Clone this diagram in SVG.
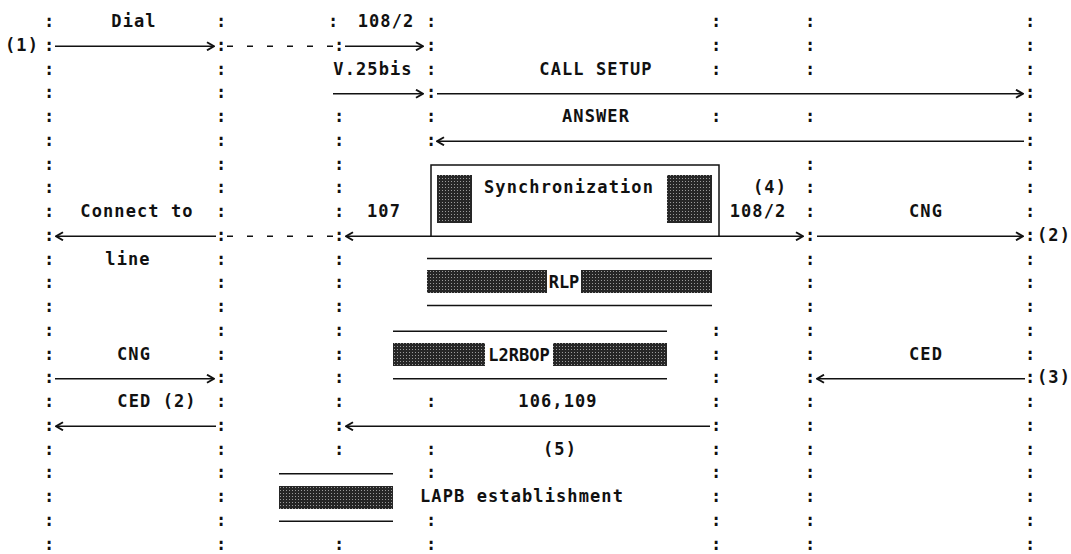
<svg xmlns="http://www.w3.org/2000/svg" width="1071" height="554" viewBox="0 0 1071 554">
<style>
text { font-family: "DejaVu Sans Mono", "Liberation Mono", monospace; font-size: 17px; font-weight: bold; fill: #111; }
.m { text-anchor: middle; }
.lb { letter-spacing: 1.1px; }
.ln { stroke: #111; stroke-width: 1.4; fill: none; }
.dash { stroke-dasharray: 6 14; }
.blk { fill: url(#ht); }
.box { fill: none; stroke: #111; stroke-width: 1.5; }
.ar { marker-end: url(#ah); }
.al { marker-start: url(#ah); }
</style>
<defs>
<pattern id="ht" width="3" height="3" patternUnits="userSpaceOnUse">
<rect width="3" height="3" fill="#262626"/>
<rect x="1" y="1" width="1" height="1" fill="#9a9a9a"/>
</pattern>
<marker id="ah" viewBox="-1 -5 9 10" markerWidth="9" markerHeight="10" refX="7" refY="0" orient="auto-start-reverse" markerUnits="userSpaceOnUse">
<path d="M0,-4 L7,0 L0,4" fill="none" stroke="#111" stroke-width="2"/>
</marker>
</defs>
<rect width="1071" height="554" fill="#fff"/>

<g id="col-A">
<text class="m"><tspan x="49" y="27.1">:</tspan><tspan x="49" y="50.85">:</tspan><tspan x="49" y="74.6">:</tspan><tspan x="49" y="98.35">:</tspan><tspan x="49" y="122.1">:</tspan><tspan x="49" y="145.85">:</tspan><tspan x="49" y="169.6">:</tspan><tspan x="49" y="193.35">:</tspan><tspan x="49" y="217.1">:</tspan><tspan x="49" y="240.85">:</tspan><tspan x="49" y="264.6">:</tspan><tspan x="49" y="288.35">:</tspan><tspan x="49" y="312.1">:</tspan><tspan x="49" y="335.85">:</tspan><tspan x="49" y="359.6">:</tspan><tspan x="49" y="383.35">:</tspan><tspan x="49" y="407.1">:</tspan><tspan x="49" y="430.85">:</tspan><tspan x="49" y="454.6">:</tspan><tspan x="49" y="478.35">:</tspan><tspan x="49" y="502.1">:</tspan><tspan x="49" y="525.85">:</tspan><tspan x="49" y="549.6">:</tspan></text>
</g>
<g id="col-B">
<text class="m"><tspan x="221" y="27.1">:</tspan><tspan x="221" y="50.85">:</tspan><tspan x="221" y="74.6">:</tspan><tspan x="221" y="98.35">:</tspan><tspan x="221" y="122.1">:</tspan><tspan x="221" y="145.85">:</tspan><tspan x="221" y="169.6">:</tspan><tspan x="221" y="193.35">:</tspan><tspan x="221" y="217.1">:</tspan><tspan x="221" y="240.85">:</tspan><tspan x="221" y="264.6">:</tspan><tspan x="221" y="288.35">:</tspan><tspan x="221" y="312.1">:</tspan><tspan x="221" y="335.85">:</tspan><tspan x="221" y="359.6">:</tspan><tspan x="221" y="383.35">:</tspan><tspan x="221" y="407.1">:</tspan><tspan x="221" y="430.85">:</tspan><tspan x="221" y="454.6">:</tspan><tspan x="221" y="478.35">:</tspan><tspan x="221" y="502.1">:</tspan><tspan x="221" y="525.85">:</tspan><tspan x="221" y="549.6">:</tspan></text>
</g>
<g id="col-C">
<text class="m"><tspan x="333" y="27.1">:</tspan><tspan x="339" y="50.85">:</tspan><tspan x="339" y="122.1">:</tspan><tspan x="339" y="145.85">:</tspan><tspan x="339" y="169.6">:</tspan><tspan x="339" y="193.35">:</tspan><tspan x="339" y="217.1">:</tspan><tspan x="339" y="240.85">:</tspan><tspan x="339" y="264.6">:</tspan><tspan x="339" y="288.35">:</tspan><tspan x="339" y="312.1">:</tspan><tspan x="339" y="335.85">:</tspan><tspan x="339" y="359.6">:</tspan><tspan x="339" y="383.35">:</tspan><tspan x="339" y="407.1">:</tspan><tspan x="339" y="430.85">:</tspan><tspan x="339" y="454.6">:</tspan><tspan x="339" y="549.6">:</tspan></text>
</g>
<g id="col-D">
<text class="m"><tspan x="431" y="27.1">:</tspan><tspan x="431" y="50.85">:</tspan><tspan x="431" y="74.6">:</tspan><tspan x="431" y="98.35">:</tspan><tspan x="431" y="122.1">:</tspan><tspan x="431" y="145.85">:</tspan><tspan x="431" y="407.1">:</tspan><tspan x="431" y="454.6">:</tspan><tspan x="431" y="478.35">:</tspan><tspan x="431" y="525.85">:</tspan><tspan x="431" y="549.6">:</tspan></text>
</g>
<g id="col-E">
<text class="m"><tspan x="716" y="27.1">:</tspan><tspan x="716" y="50.85">:</tspan><tspan x="716" y="74.6">:</tspan><tspan x="716" y="122.1">:</tspan><tspan x="716" y="335.85">:</tspan><tspan x="716" y="359.6">:</tspan><tspan x="716" y="383.35">:</tspan><tspan x="716" y="407.1">:</tspan><tspan x="716" y="430.85">:</tspan><tspan x="716" y="454.6">:</tspan><tspan x="716" y="478.35">:</tspan><tspan x="716" y="502.1">:</tspan><tspan x="716" y="525.85">:</tspan><tspan x="716" y="549.6">:</tspan></text>
</g>
<g id="col-F">
<text class="m"><tspan x="810" y="27.1">:</tspan><tspan x="810" y="50.85">:</tspan><tspan x="810" y="74.6">:</tspan><tspan x="810" y="122.1">:</tspan><tspan x="810" y="169.6">:</tspan><tspan x="810" y="193.35">:</tspan><tspan x="810" y="217.1">:</tspan><tspan x="810" y="240.85">:</tspan><tspan x="810" y="264.6">:</tspan><tspan x="810" y="288.35">:</tspan><tspan x="810" y="312.1">:</tspan><tspan x="810" y="335.85">:</tspan><tspan x="810" y="359.6">:</tspan><tspan x="810" y="383.35">:</tspan><tspan x="810" y="407.1">:</tspan><tspan x="810" y="430.85">:</tspan><tspan x="810" y="454.6">:</tspan><tspan x="810" y="478.35">:</tspan><tspan x="810" y="502.1">:</tspan><tspan x="810" y="525.85">:</tspan><tspan x="810" y="549.6">:</tspan></text>
</g>
<g id="col-G">
<text class="m"><tspan x="1030" y="27.1">:</tspan><tspan x="1030" y="50.85">:</tspan><tspan x="1030" y="74.6">:</tspan><tspan x="1030" y="98.35">:</tspan><tspan x="1030" y="122.1">:</tspan><tspan x="1030" y="145.85">:</tspan><tspan x="1030" y="169.6">:</tspan><tspan x="1030" y="193.35">:</tspan><tspan x="1030" y="217.1">:</tspan><tspan x="1030" y="240.85">:</tspan><tspan x="1030" y="264.6">:</tspan><tspan x="1030" y="288.35">:</tspan><tspan x="1030" y="312.1">:</tspan><tspan x="1030" y="335.85">:</tspan><tspan x="1030" y="359.6">:</tspan><tspan x="1030" y="383.35">:</tspan><tspan x="1030" y="407.1">:</tspan><tspan x="1030" y="430.85">:</tspan><tspan x="1030" y="454.6">:</tspan><tspan x="1030" y="478.35">:</tspan><tspan x="1030" y="502.1">:</tspan><tspan x="1030" y="525.85">:</tspan><tspan x="1030" y="549.6">:</tspan></text>
</g>

<g id="sync-box">
<rect class="box" x="431" y="165" width="288" height="71.25"/>
<rect class="blk" x="437" y="175" width="35" height="48"/>
<rect class="blk" x="667" y="175" width="45" height="48"/>
<text class="m lb" x="569" y="193.35">Synchronization</text>
</g>
<g id="rlp">
<line class="ln" x1="427" y1="258.5" x2="712" y2="258.5"/>
<rect class="blk" x="427" y="270" width="120" height="23"/>
<rect class="blk" x="581" y="270" width="131" height="23"/>
<text class="m" x="564" y="287.7">RLP</text>
<line class="ln" x1="427" y1="305.5" x2="712" y2="305.5"/>
</g>
<g id="l2rbop">
<line class="ln" x1="393" y1="331.25" x2="667" y2="331.25"/>
<rect class="blk" x="393" y="343" width="92" height="23"/>
<rect class="blk" x="553" y="343" width="114" height="23"/>
<text class="m" x="519" y="360.7">L2RBOP</text>
<line class="ln" x1="393" y1="378.75" x2="667" y2="378.75"/>
</g>
<g id="lapb">
<line class="ln" x1="279" y1="473.75" x2="393" y2="473.75"/>
<rect class="blk" x="279" y="486" width="114" height="23"/>
<line class="ln" x1="279" y1="521.25" x2="393" y2="521.25"/>
<text class="lb" x="420" y="502.1">LAPB establishment</text>
</g>

<g id="connectors">
<line class="ln ar" x1="55" y1="46.25" x2="214" y2="46.25"/>
<line class="ln dash" x1="227" y1="46.25" x2="333" y2="46.25"/>
<line class="ln ar" x1="345" y1="46.25" x2="423" y2="46.25"/>
<line class="ln ar" x1="333" y1="93.75" x2="423" y2="93.75"/>
<line class="ln ar" x1="437" y1="93.75" x2="1023" y2="93.75"/>
<line class="ln al" x1="437" y1="141.25" x2="1024" y2="141.25"/>
<line class="ln al" x1="56" y1="236.25" x2="216" y2="236.25"/>
<line class="ln dash" x1="227" y1="236.25" x2="333" y2="236.25"/>
<line class="ln al" x1="346" y1="236.25" x2="431" y2="236.25"/>
<line class="ln ar" x1="719" y1="236.25" x2="803" y2="236.25"/>
<line class="ln ar" x1="817" y1="236.25" x2="1023" y2="236.25"/>
<line class="ln ar" x1="55" y1="378.75" x2="214" y2="378.75"/>
<line class="ln al" x1="817" y1="378.75" x2="1025" y2="378.75"/>
<line class="ln al" x1="56" y1="426.25" x2="216" y2="426.25"/>
<line class="ln al" x1="346" y1="426.25" x2="710" y2="426.25"/>
</g>

<g id="labels">
<text class="m lb" x="134" y="27.1">Dial</text>
<text class="m lb" x="386" y="27.1">108/2</text>
<text class="m lb" x="22" y="50.85">(1)</text>
<text class="m lb" x="373" y="74.6">V.25bis</text>
<text class="m lb" x="596" y="74.6">CALL SETUP</text>
<text class="m lb" x="596" y="122.1">ANSWER</text>
<text class="m lb" x="770" y="193.35">(4)</text>
<text class="m lb" x="137" y="217.1">Connect to</text>
<text class="m lb" x="384" y="217.1">107</text>
<text class="m lb" x="758" y="217.1">108/2</text>
<text class="m lb" x="926" y="217.1">CNG</text>
<text class="m lb" x="1054" y="240.85">(2)</text>
<text class="m lb" x="128" y="264.6">line</text>
<text class="m lb" x="134" y="359.6">CNG</text>
<text class="m lb" x="926" y="359.6">CED</text>
<text class="m lb" x="1054" y="383.35">(3)</text>
<text class="m lb" x="157" y="407.1">CED (2)</text>
<text class="m lb" x="558" y="407.1">106,109</text>
<text class="m lb" x="560" y="454.6">(5)</text>
</g>
</svg>
